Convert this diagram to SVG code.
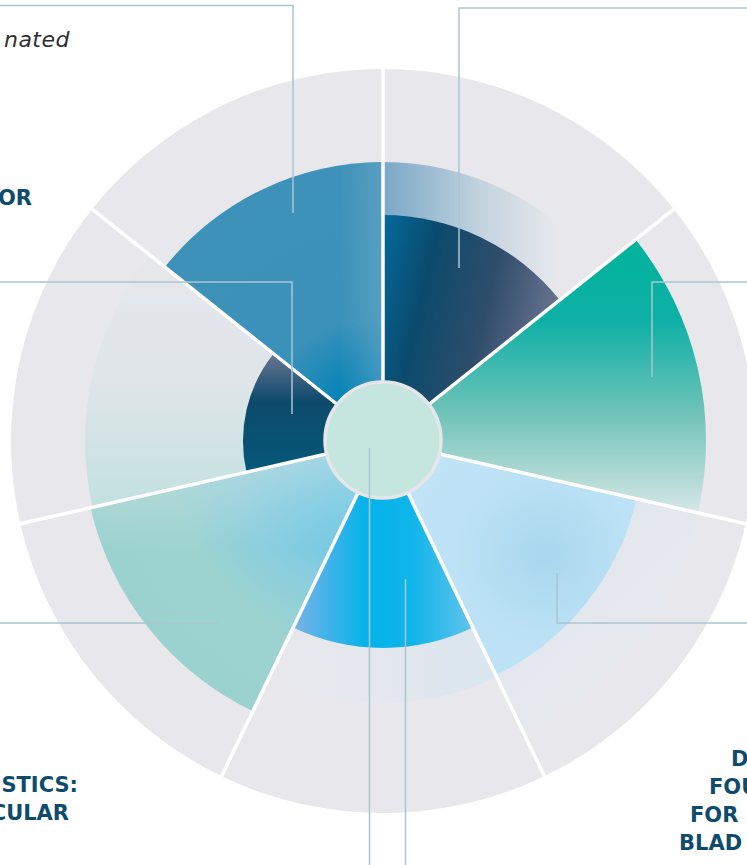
<svg xmlns="http://www.w3.org/2000/svg" width="747" height="865" viewBox="0 0 747 865">
<style>
.lead{fill:none;stroke:#a9c5d2;stroke-width:1.5}
.div{stroke:#ffffff;stroke-width:3.5}
.hd{font-family:"DejaVu Sans","Liberation Sans",sans-serif;font-weight:bold;font-size:21px;fill:#0f4b6c}
.it{font-family:"DejaVu Sans","Liberation Sans",sans-serif;font-style:italic;font-size:22px;fill:#2f2f33;letter-spacing:0.5px}
</style>
<defs>
<linearGradient id="g1band" x1="0" y1="0" x2="1" y2="0">
<stop offset="0" stop-color="#7aa8c7"/><stop offset="0.45" stop-color="#c3d3df"/><stop offset="0.8" stop-color="#e8e8ec"/>
</linearGradient>
<linearGradient id="g1" x1="0" y1="0" x2="1" y2="0.3">
<stop offset="0" stop-color="#036a9b"/><stop offset="0.3" stop-color="#0b4a6d"/><stop offset="0.65" stop-color="#2f4d6b"/><stop offset="1" stop-color="#66728e"/>
</linearGradient>
<linearGradient id="g2" x1="0" y1="0" x2="0" y2="1">
<stop offset="0" stop-color="#00b39b"/><stop offset="0.3" stop-color="#0fb0a6"/><stop offset="0.65" stop-color="#74c4ba"/><stop offset="1" stop-color="#d6e7e5"/>
</linearGradient>
<radialGradient id="g3" gradientUnits="userSpaceOnUse" cx="545" cy="555" r="180">
<stop offset="0" stop-color="#a9d7ee"/><stop offset="0.5" stop-color="#bde2f5"/><stop offset="1" stop-color="#c2e5f6"/>
</radialGradient>
<linearGradient id="g3band" x1="0" y1="0" x2="1" y2="1">
<stop offset="0" stop-color="#c9e0e4"/><stop offset="0.6" stop-color="#e4e8ee"/><stop offset="1" stop-color="#e8e8ec"/>
</linearGradient>
<linearGradient id="g4" x1="0" y1="0" x2="1" y2="0">
<stop offset="0" stop-color="#7ab3e8"/><stop offset="0.4" stop-color="#05b3ea"/><stop offset="0.65" stop-color="#0db5ea"/><stop offset="1" stop-color="#62c2ec"/>
</linearGradient>
<linearGradient id="g4band" x1="0" y1="0" x2="1" y2="0">
<stop offset="0" stop-color="#e8e8ec"/><stop offset="0.5" stop-color="#e3e7ee"/><stop offset="1" stop-color="#d9e6ef"/>
</linearGradient>
<radialGradient id="g5" gradientUnits="userSpaceOnUse" cx="383" cy="441" r="300">
<stop offset="0.2" stop-color="#5cc4e8"/><stop offset="0.5" stop-color="#88cddf"/><stop offset="0.72" stop-color="#9cd3d0"/><stop offset="1" stop-color="#9bd2ce"/>
</radialGradient>
<linearGradient id="g5top" x1="0" y1="0" x2="0" y2="1">
<stop offset="0" stop-color="#c8dfe0" stop-opacity="0.8"/><stop offset="0.4" stop-color="#c8dfe0" stop-opacity="0"/>
</linearGradient>
<linearGradient id="g6" x1="0" y1="0" x2="0" y2="1">
<stop offset="0" stop-color="#e6e7eb"/><stop offset="0.5" stop-color="#dfe5e9"/><stop offset="1" stop-color="#c3e1df"/>
</linearGradient>
<linearGradient id="g6d" x1="0" y1="0" x2="0" y2="1">
<stop offset="0" stop-color="#6a7592"/><stop offset="0.4" stop-color="#0d4a6b"/><stop offset="1" stop-color="#04587a"/>
</linearGradient>
<radialGradient id="g7" gradientUnits="userSpaceOnUse" cx="383" cy="441" r="279">
<stop offset="0.2" stop-color="#0082b6"/><stop offset="0.45" stop-color="#3a91b9"/><stop offset="1" stop-color="#3e92b9"/>
</radialGradient>
<linearGradient id="g7r" x1="0" y1="0" x2="1" y2="0">
<stop offset="0.8" stop-color="#6aa7c7" stop-opacity="0"/><stop offset="1" stop-color="#6aa7c7" stop-opacity="0.6"/>
</linearGradient>
</defs>
<g id="background">
<circle cx="383" cy="441" r="372" fill="#e8e8ec"/>
</g>
<g id="sector-top">
<path d="M383 441 L383 162 A279 279 0 0 1 601.13 267.05 Z" fill="url(#g1band)"/>
<path d="M383 441 L383 215 A226 226 0 0 1 559.69 300.09 Z" fill="url(#g1)"/>
</g>
<g id="sector-right-upper">
<path d="M383 441 L635.53 239.61 A323 323 0 0 1 697.9 512.87 Z" fill="url(#g2)"/>
</g>
<g id="sector-right-lower">
<path d="M383 441 L697.9 512.87 A323 323 0 0 1 523.14 732.01 Z" fill="url(#g3band)"/>
<path d="M383 441 L636.48 498.86 A260 260 0 0 1 495.81 675.25 Z" fill="url(#g3)"/>
</g>
<g id="sector-bottom">
<path d="M383 441 L496.68 677.05 A262 262 0 0 1 269.32 677.05 Z" fill="url(#g4band)"/>
<path d="M383 441 L472.81 627.5 A207 207 0 0 1 293.19 627.5 Z" fill="url(#g4)"/>
</g>
<g id="sector-lower-left">
<path d="M383 441 L252.84 711.29 A300 300 0 0 1 90.52 507.76 Z" fill="url(#g5)"/>
<path d="M383 441 L252.84 711.29 A300 300 0 0 1 90.52 507.76 Z" fill="url(#g5top)"/>
</g>
<g id="sector-left">
<path d="M383 441 L92.47 507.31 A298 298 0 0 1 150.01 255.2 Z" fill="url(#g6)"/>
<path d="M383 441 L246.51 472.15 A140 140 0 0 1 273.54 353.71 Z" fill="url(#g6d)"/>
</g>
<g id="sector-upper-left">
<path d="M383 441 L164.87 267.05 A279 279 0 0 1 383 162 Z" fill="url(#g7)"/>
<path d="M383 441 L164.87 267.05 A279 279 0 0 1 383 162 Z" fill="url(#g7r)"/>
</g>
<g id="dividers">
<line class="div" x1="383" y1="441" x2="383" y2="69"/>
<line class="div" x1="383" y1="441" x2="673.84" y2="209.06"/>
<line class="div" x1="383" y1="441" x2="745.67" y2="523.78"/>
<line class="div" x1="383" y1="441" x2="544.4" y2="776.16"/>
<line class="div" x1="383" y1="441" x2="221.6" y2="776.16"/>
<line class="div" x1="383" y1="441" x2="20.33" y2="523.78"/>
<line class="div" x1="383" y1="441" x2="92.16" y2="209.06"/>
</g>
<g id="hub">
<circle cx="383" cy="440" r="58" fill="#c5e6df" stroke="#e6e6ea" stroke-width="3.5"/>
</g>
<g id="connectors">
<polyline class="lead" points="0,5.5 293,5.5 293,213"/>
<polyline class="lead" points="459,268 459,8 747,8"/>
<polyline class="lead" points="0,282 292,282 292,414"/>
<polyline class="lead" points="652,377 652,282 747,282"/>
<polyline class="lead" points="557,573 557,623 747,623"/>
<polyline class="lead" points="405.5,579 405.5,865"/>
<polyline class="lead" points="369.5,448 369.5,865"/>
<polyline class="lead" points="0,623 218,623"/>
</g>
<g id="labels">
<text class="it" x="70" y="47" text-anchor="end">nated</text>
<text class="hd" x="32" y="205" text-anchor="end">OR</text>
<text class="hd" x="78" y="792" text-anchor="end">STICS:</text>
<text class="hd" x="69" y="820" text-anchor="end">CULAR</text>
<text class="hd" x="731" y="766">D</text>
<text class="hd" x="709" y="794">FOU</text>
<text class="hd" x="690" y="822">FOR</text>
<text class="hd" x="679" y="850">BLAD</text>
</g>
</svg>
